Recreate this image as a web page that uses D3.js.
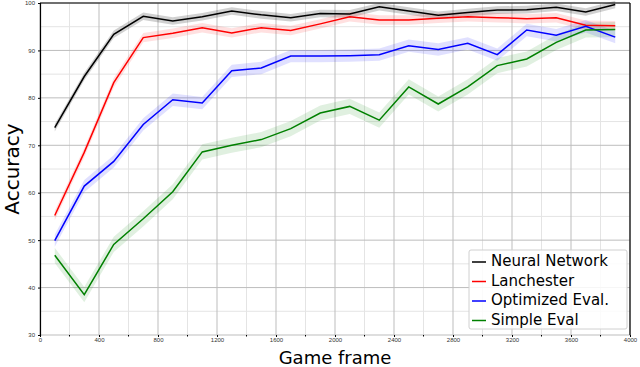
<!DOCTYPE html>
<html>
<head>
<meta charset="utf-8">
<script src="https://cdn.jsdelivr.net/npm/d3@7"></script>
<style>
  body { margin: 0; background: #fff; }
  svg { font-family: "DejaVu Sans", sans-serif; }
</style>
</head>
<body>
<div id="chart"></div>
<script>
// Game frames sampled
const frames = [100, 300, 500, 700, 900, 1100, 1300, 1500, 1700, 1900,
  2100, 2300, 2500, 2700, 2900, 3100, 3300, 3500, 3700, 3900];

// Accuracy per method
const neuralNetwork = [73.7, 84.5, 93.4, 97.2, 96.2, 97.1, 98.3, 97.5, 96.9, 97.8,
  97.7, 99.2, 98.3, 97.4, 98.0, 98.5, 98.6, 99.1, 98.1, 99.7];
const lanchester = [55.2, 68.5, 83.2, 92.7, 93.6, 94.8, 93.7, 94.8, 94.2, 95.6,
  97.1, 96.4, 96.4, 96.8, 97.1, 96.9, 96.7, 96.9, 95.3, 95.2];
const optimizedEval = [49.9, 61.4, 66.6, 74.4, 79.6, 78.9, 85.7, 86.3, 88.8, 88.8,
  88.9, 89.1, 91.0, 90.2, 91.5, 89.1, 94.3, 93.2, 95.1, 92.8];
const simpleEval = [46.8, 38.5, 49.1, 54.5, 60.2, 68.6, 70.0, 71.2, 73.5, 76.8,
  78.2, 75.3, 82.3, 78.7, 82.3, 86.8, 88.2, 91.7, 94.3, 94.4];

// Half-width of the shaded band per method
const bandWidths = [0.8, 1.0, 1.3, 1.6];

const seriesNames = ["Neural Network", "Lanchester", "Optimized Eval.", "Simple Eval"];
const seriesColors = ["#000000", "#ff0000", "#0000ff", "#008000"];
const seriesValues = [neuralNetwork, lanchester, optimizedEval, simpleEval];

const xTicks = [0, 400, 800, 1200, 1600, 2000, 2400, 2800, 3200, 3600, 4000];
const yTicks = [30, 40, 50, 60, 70, 80, 90, 100];

const W = 640, H = 367;
const margin = { top: 3, right: 10, bottom: 32, left: 40 };
const width = W - margin.left - margin.right;
const height = H - margin.top - margin.bottom;

const svg = d3.select("#chart")
  .append("svg")
  .attr("width", W)
  .attr("height", H);

const g = svg.append("g")
  .attr("transform", `translate(${margin.left},${margin.top})`);

const x = d3.scaleLinear().domain([0, 4000]).range([0, width]);
const y = d3.scaleLinear().domain([30, 100]).range([height, 0]);

// Minor grid
const xMinor = d3.range(200, 4000, 400);
const yMinor = d3.range(35, 100, 10);
g.append("g").selectAll("line").data(xMinor).join("line")
  .attr("x1", d => x(d)).attr("x2", d => x(d))
  .attr("y1", 0).attr("y2", height)
  .attr("stroke", "#e4e4e4").attr("stroke-width", 1);
g.append("g").selectAll("line").data(yMinor).join("line")
  .attr("x1", 0).attr("x2", width)
  .attr("y1", d => y(d)).attr("y2", d => y(d))
  .attr("stroke", "#e4e4e4").attr("stroke-width", 1);

// Major grid
g.append("g").selectAll("line").data(xTicks).join("line")
  .attr("x1", d => x(d)).attr("x2", d => x(d))
  .attr("y1", 0).attr("y2", height)
  .attr("stroke", "#bdbdbd").attr("stroke-width", 1);
g.append("g").selectAll("line").data(yTicks).join("line")
  .attr("x1", 0).attr("x2", width)
  .attr("y1", d => y(d)).attr("y2", d => y(d))
  .attr("stroke", "#bdbdbd").attr("stroke-width", 1);

// Bands and lines
seriesValues.forEach((vals, i) => {
  const pts = frames.map((f, j) => ({ f, v: vals[j] }));
  const area = d3.area()
    .x(d => x(d.f))
    .y0(d => y(d.v - bandWidths[i]))
    .y1(d => y(d.v + bandWidths[i]));
  g.append("path")
    .datum(pts)
    .attr("d", area)
    .attr("fill", seriesColors[i])
    .attr("fill-opacity", i === 0 ? 0.18 : 0.12);
});

seriesValues.forEach((vals, i) => {
  const pts = frames.map((f, j) => ({ f, v: vals[j] }));
  const line = d3.line().x(d => x(d.f)).y(d => y(d.v));
  g.append("path")
    .datum(pts)
    .attr("d", line)
    .attr("fill", "none")
    .attr("stroke", seriesColors[i])
    .attr("stroke-width", 1.5);
});

// Axes
const xAxis = g.append("g")
  .attr("transform", `translate(0,${height})`)
  .call(d3.axisBottom(x).tickValues(xTicks).tickFormat(d3.format("d")).tickSize(2).tickPadding(1));
xAxis.select(".domain").remove();
xAxis.selectAll("text").attr("font-size", 6).attr("fill", "#333");

g.append("g").selectAll("line").data(xMinor).join("line")
  .attr("x1", d => x(d)).attr("x2", d => x(d))
  .attr("y1", height).attr("y2", height + 1.5)
  .attr("stroke", "#000");

const yAxis = g.append("g")
  .call(d3.axisLeft(y).tickValues(yTicks).tickSize(2).tickPadding(3));
yAxis.select(".domain").attr("stroke-width", 1.2);
yAxis.selectAll("text").attr("font-size", 6).attr("fill", "#333");

// Top and right spines
g.append("line").attr("x1", 0).attr("x2", width).attr("y1", 0).attr("y2", 0)
  .attr("stroke", "#000").attr("stroke-width", 1.2);
g.append("line").attr("x1", width).attr("x2", width).attr("y1", 0).attr("y2", height)
  .attr("stroke", "#000").attr("stroke-width", 1.2);

// Axis labels
svg.append("text")
  .attr("x", margin.left + width / 2)
  .attr("y", H - 3.5)
  .attr("text-anchor", "middle")
  .attr("font-size", 18)
  .text("Game frame");

svg.append("text")
  .attr("transform", "rotate(-90)")
  .attr("x", -(margin.top + height / 2))
  .attr("y", 19)
  .attr("text-anchor", "middle")
  .attr("font-size", 20)
  .text("Accuracy");

// Legend
const legend = svg.append("g").attr("transform", "translate(469,250)");
legend.append("rect")
  .attr("width", 158).attr("height", 79)
  .attr("rx", 2)
  .attr("fill", "#fff").attr("fill-opacity", 0.85)
  .attr("stroke", "#d0d0d0");
seriesNames.forEach((name, i) => {
  const cy = 11 + i * 19.5;
  legend.append("line")
    .attr("x1", 3).attr("x2", 17)
    .attr("y1", cy + 1).attr("y2", cy + 1)
    .attr("stroke", seriesColors[i]).attr("stroke-width", 1.5);
  legend.append("text")
    .attr("x", 22).attr("y", cy)
    .attr("dy", "0.35em")
    .attr("font-size", 15)
    .text(name);
});
</script>
</body>
</html>
